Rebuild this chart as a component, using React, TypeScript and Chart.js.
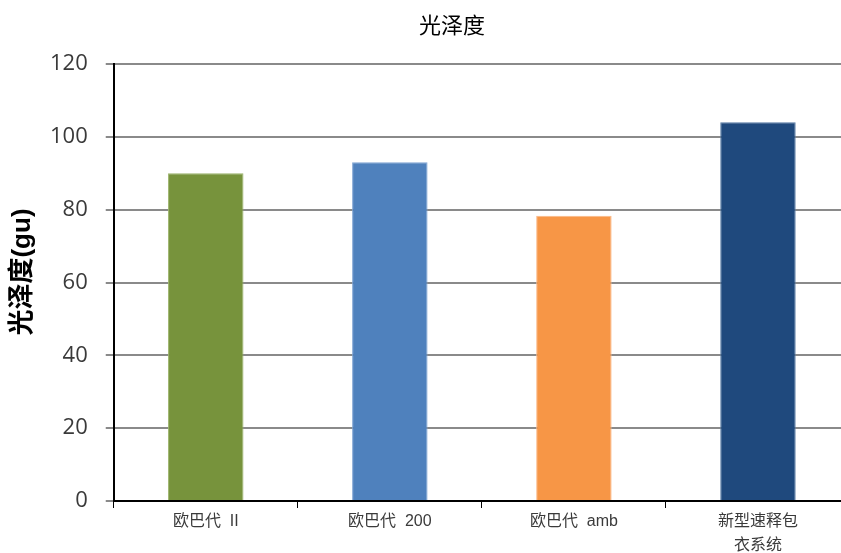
import React, { useEffect, useRef } from "react";
import { Chart, registerables } from "chart.js";

Chart.register(...registerables);

const categories: (string | string[])[] = ["欧巴代  II", "欧巴代  200", "欧巴代  amb", ["新型速释包", "衣系统"]];
const values: number[] = [90, 93, 78.3, 104];
const barColors: string[] = ["#77933C", "#4F81BD", "#F79646", "#1F497D"];
const barBorders: string[] = ["#9bb36a", "#7ea3d3", "#fbb887", "#5478a3"];
const yTicks: number[] = [0, 20, 40, 60, 80, 100, 120];
const titleText = "光泽度";
const yTitleText = "光泽度(gu)";

const titlePlugin = {
  id: "offsetTitles",
  afterDraw(chart: any) {
    const ctx = chart.ctx;
    ctx.save();
    ctx.fillStyle = "#000";
    ctx.font = "22px 'Noto Sans CJK SC'";
    ctx.textAlign = "center";
    ctx.textBaseline = "middle";
    ctx.fillText(titleText, 452, 25);
    ctx.restore();

    ctx.save();
    ctx.translate(23, 272);
    ctx.rotate(-Math.PI / 2);
    ctx.fillStyle = "#000";
    ctx.font = "bold 26px 'Liberation Sans', 'Noto Sans CJK SC'";
    ctx.textAlign = "center";
    ctx.textBaseline = "middle";
    ctx.fillText(yTitleText, 0, 0);
    ctx.restore();
  },
};

export default function App() {
  const ref = useRef<HTMLCanvasElement | null>(null);
  useEffect(() => {
    if (!ref.current) return;
    const chart = new Chart(ref.current, {
      type: "bar",
      data: {
        labels: categories,
        datasets: [
          {
            data: values,
            backgroundColor: barColors,
            borderColor: barBorders,
            borderWidth: 1,
            categoryPercentage: 1,
            barPercentage: 0.41,
          },
        ],
      },
      options: {
        responsive: false,
        animation: false,
        devicePixelRatio: 1,
        layout: { padding: { top: 64, left: 32, right: 54, bottom: 0 } },
        plugins: {
          legend: { display: false },
          tooltip: { enabled: false },
          title: { display: false },
        },
        scales: {
          x: {
            grid: {
              display: true,
              drawOnChartArea: false,
              offset: true,
              tickLength: 7,
              color: "#000",
              lineWidth: 1,
            },
            border: { display: true, color: "#000", width: 2 },
            ticks: {
              color: "#3a3a3a",
              font: { family: "'Liberation Sans', 'Noto Sans CJK SC'", size: 16, lineHeight: 1.5 },
              padding: 2,
              maxRotation: 0,
              autoSkip: false,
            },
          },
          y: {
            min: 0,
            max: 120,
            afterBuildTicks: (axis: any) => {
              axis.ticks = yTicks.map((v) => ({ value: v }));
            },
            grid: {
              color: "#8a8a8a",
              lineWidth: 2,
              tickLength: 8,
            },
            border: { display: true, color: "#000", width: 2 },
            ticks: {
              color: "#3a3a3a",
              font: { family: "'Open Sans'", size: 22 },
              padding: 18,
            },
            title: { display: false },
          },
        },
      },
      plugins: [titlePlugin],
    });
    return () => chart.destroy();
  }, []);
  return (
    <div style={{ position: "absolute", left: 0, top: 0, width: 841, height: 553, overflow: "hidden", background: "#fff" }}>
      <canvas ref={ref} width={904} height={560} style={{ width: 904, height: 560, display: "block" }} />
    </div>
  );
}
